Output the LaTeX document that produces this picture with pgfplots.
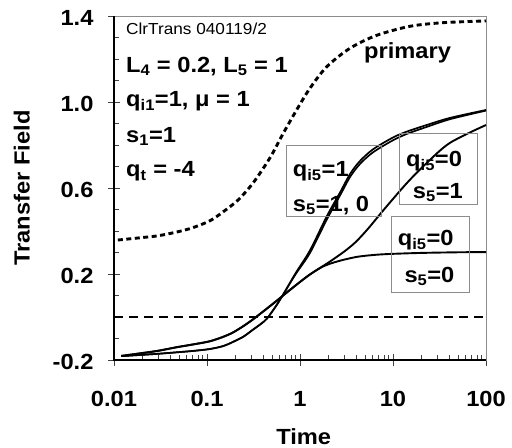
\documentclass[border=0pt]{standalone}
\usepackage{fontspec}
\setmainfont{Liberation Sans}[FakeStretch=1.08]
\usepackage{pgfplots}
\pgfplotsset{compat=1.18}

\newcommand{\lbl}{\fontsize{22}{24}\selectfont\bfseries}

\begin{document}
\begin{tikzpicture}
\begin{axis}[
    name=ax, at={(0,0)}, anchor=south west,
    scale only axis, width=372bp, height=344bp,
    xmode=log, xmin=0.01, xmax=100,
    ymin=-0.2, ymax=1.4,
    xtick={0.01,0.1,1,10,100},
    xticklabels={0.01,0.1,1,10,100},
    ytick={-0.2,0.2,0.6,1.0,1.4},
    minor ytick={-0.1,0,0.1,0.3,0.4,0.5,0.7,0.8,0.9,1.1,1.2,1.3},
    xtick pos=bottom, ytick pos=left,
    tick align=center,
    major tick length=12bp, minor tick length=5bp,
    minor x tick style={yshift=2.5bp},
    minor y tick style={xshift=2.5bp},
    every tick/.style={black!75, line width=0.8bp},
    axis line style={draw=black!45, line width=0.8bp},
    tick label style={font=\lbl},
    xticklabel style={yshift=-22bp},
    yticklabel style={xshift=-11bp, yshift=-2bp},
    /pgf/number format/assume math mode=true,
    yticklabel style={/pgf/number format/.cd, fixed, fixed zerofill, precision=1},
    xlabel={Time}, ylabel={Transfer Field},
    every axis y label/.style={at={(axis description cs:-0.248,0.5)}, rotate=90, anchor=center, font=\lbl},
    every axis x label/.style={at={(axis description cs:0.51,-0.224)}, anchor=center, font=\lbl},
    clip=false,
]
% zero line
\addplot[black, line width=1.3bp, dash pattern=on 9bp off 6bp] coordinates {(0.01,0) (100,0)};

% primary
\addplot[black, line width=2.9bp, dash pattern=on 5bp off 3.5bp, smooth] coordinates {
(0.011,0.358) (0.0206,0.37) (0.03,0.378) (0.047,0.395) (0.07,0.415) (0.108,0.448)
(0.15,0.49) (0.217,0.545) (0.315,0.625) (0.475,0.74) (0.66,0.854) (0.92,0.963)
(1.28,1.064) (1.94,1.164) (3.45,1.25) (6.67,1.31) (15.2,1.352) (34.7,1.369) (100,1.377)};

% qi5=0, s5=0
\addplot[black, line width=1.9bp, smooth] coordinates {
(0.012,-0.181) (0.02,-0.168) (0.03,-0.157) (0.048,-0.140) (0.07,-0.128) (0.107,-0.113)
(0.15,-0.092) (0.19,-0.072) (0.245,-0.043) (0.31,-0.012) (0.4,0.025) (0.5,0.058)
(0.61,0.088) (0.75,0.12) (1.0,0.163) (1.3,0.2) (1.77,0.235) (2.5,0.258) (4.0,0.279)
(6,0.288) (9,0.293) (20,0.298) (50,0.301) (100,0.302)};

% qi5=0, s5=1
\addplot[black, line width=1.9bp, smooth] coordinates {
(0.012,-0.181) (0.02,-0.168) (0.03,-0.157) (0.048,-0.140) (0.07,-0.128) (0.107,-0.113)
(0.15,-0.092) (0.19,-0.072) (0.245,-0.043) (0.31,-0.012) (0.4,0.025) (0.5,0.058)
(0.61,0.088) (0.75,0.12) (1.0,0.163) (1.3,0.2) (2.05,0.255) (3.0,0.305) (4.0,0.35)
(5.5,0.415) (8.0,0.5) (14.1,0.623) (23,0.716) (41,0.81) (100,0.893)};

% qi5=1, s5=1
\addplot[black, line width=1.7bp, smooth] coordinates {
(0.012,-0.182) (0.02,-0.176) (0.03,-0.171) (0.048,-0.164) (0.07,-0.158) (0.107,-0.149)
(0.15,-0.135) (0.19,-0.116) (0.245,-0.092) (0.31,-0.06) (0.38,-0.032) (0.44,-0.008)
(0.55,0.05) (0.66,0.105) (0.9,0.205) (1.28,0.31) (1.95,0.47) (2.7,0.58) (3.45,0.665)
(4.4,0.725) (6.1,0.78) (10,0.835) (14,0.862) (23,0.893) (41,0.926) (100,0.963)};

% qi5=1, s5=0
\addplot[black, line width=1.7bp, smooth] coordinates {
(0.012,-0.182) (0.02,-0.176) (0.03,-0.171) (0.048,-0.164) (0.07,-0.158) (0.107,-0.149)
(0.15,-0.135) (0.19,-0.116) (0.245,-0.092) (0.31,-0.06) (0.38,-0.032) (0.44,-0.008)
(0.55,0.05) (0.66,0.105) (0.9,0.2) (1.28,0.298) (1.95,0.455) (2.7,0.566) (3.45,0.651)
(4.4,0.711) (6.1,0.766) (10,0.822) (14,0.851) (23,0.884) (41,0.92) (100,0.96)};

% frame: dark left and bottom axis lines
\draw[black, line width=1.5bp] (rel axis cs:0,1) -- (rel axis cs:0,0) -- (rel axis cs:1,0);

% annotations
\node[anchor=base west, inner sep=0pt, font=\fontsize{16}{16}\selectfont] at (axis description cs:0.0323,0.9448) {ClrTrans 040119/2};
\node[anchor=base west, inner sep=0pt, font=\lbl] at (axis description cs:0.0323,0.8372) {L\textsubscript{4} = 0.2, L\textsubscript{5} = 1};
\node[anchor=base west, inner sep=0pt, font=\lbl] at (axis description cs:0.0323,0.7355) {q\textsubscript{i1}=1, μ = 1};
\node[anchor=base west, inner sep=0pt, font=\lbl] at (axis description cs:0.0323,0.6337) {s\textsubscript{1}=1};
\node[anchor=base west, inner sep=0pt, font=\lbl] at (axis description cs:0.0323,0.532) {q\textsubscript{t} = -4};
\node[anchor=base west, inner sep=0pt, font=\lbl] at (axis description cs:0.672,0.875) {primary};

\draw[black!45, line width=0.8bp] (axis description cs:0.4624,0.4166) rectangle (axis description cs:0.7177,0.623);
\node[anchor=base west, inner sep=0pt, font=\lbl] at (axis description cs:0.4804,0.5328) {q\textsubscript{i5}=1};
\node[anchor=base west, inner sep=0pt, font=\lbl] at (axis description cs:0.4804,0.4331) {s\textsubscript{5}=1, 0};

\draw[black!45, line width=0.8bp] (axis description cs:0.767,0.4535) rectangle (axis description cs:0.9777,0.659);
\node[anchor=base west, inner sep=0pt, font=\lbl] at (axis description cs:0.785,0.5619) {q\textsubscript{i5}=0};
\node[anchor=base west, inner sep=0pt, font=\lbl] at (axis description cs:0.803,0.47) {s\textsubscript{5}=1};

\draw[black!45, line width=0.8bp] (axis description cs:0.7446,0.1968) rectangle (axis description cs:0.955,0.4166);
\node[anchor=base west, inner sep=0pt, font=\lbl] at (axis description cs:0.7626,0.3323) {q\textsubscript{i5}=0};
\node[anchor=base west, inner sep=0pt, font=\lbl] at (axis description cs:0.7804,0.2259) {s\textsubscript{5}=0};
\end{axis}
\pgfresetboundingbox
\path[use as bounding box] (-114bp,-88bp) rectangle (398bp,360bp);
\end{tikzpicture}
\end{document}
